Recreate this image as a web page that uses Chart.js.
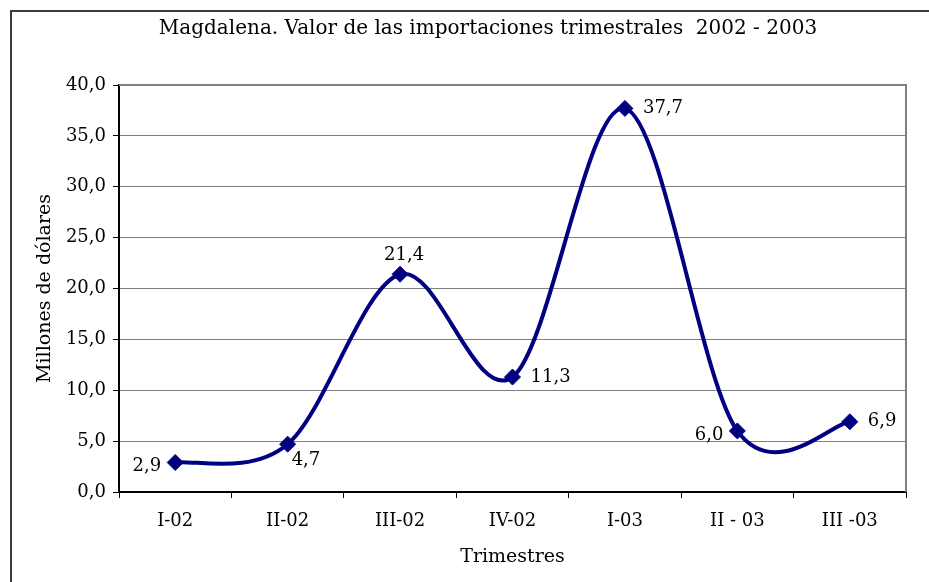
<!DOCTYPE html>
<html>
<head>
<meta charset="utf-8">
<script src="https://cdn.jsdelivr.net/npm/chart.js@4"></script>
<style>
  html, body { margin: 0; padding: 0; background: #fff; }
  #wrap { width: 929px; height: 582px; }
</style>
</head>
<body>
<div id="wrap"><canvas id="chart" width="929" height="582"></canvas></div>
<script>
const title = 'Magdalena. Valor de las importaciones trimestrales  2002 - 2003';
const trimestres = ['I-02', 'II-02', 'III-02', 'IV-02', 'I-03', 'II - 03', 'III -03'];
const valores = [2.9, 4.7, 21.4, 11.3, 37.7, 6.0, 6.9];
// where each value label sits relative to its point
const labelPos = ['left', 'belowRight', 'above', 'right', 'right', 'left', 'right'];

const FONT = '"DejaVu Serif", "Liberation Serif", serif';
const NAVY = '#000080';
const fmt = v => v.toFixed(1).replace('.', ',');

/* ---------- spreadsheet-style smoothing (uniform catmull-rom) ---------- */
const smooth = {
  id: 'smooth',
  beforeDatasetDraw(chart, args) {
    const meta = args.meta;
    meta.dataset.updateControlPoints(chart.chartArea);
    const pts = meta.data;
    const n = pts.length;
    pts.forEach((p, i) => {
      const prev = pts[Math.max(i - 1, 0)];
      const next = pts[Math.min(i + 1, n - 1)];
      const tx = (next.x - prev.x) / 6, ty = (next.y - prev.y) / 6;
      p.cp1x = p.x - tx; p.cp1y = p.y - ty;
      p.cp2x = p.x + tx; p.cp2y = p.y + ty;
    });
  }
};

/* ---------- frame, title, plot border, value labels ---------- */
const decor = {
  id: 'decor',
  beforeDraw(chart) {
    const ctx = chart.ctx;
    ctx.save();
    ctx.fillStyle = '#fff';
    ctx.fillRect(0, 0, chart.width, chart.height);
    ctx.strokeStyle = '#3a3a3a';
    ctx.lineWidth = 2;
    ctx.strokeRect(11, 11, chart.width + 40, chart.height + 40);
    ctx.fillStyle = '#000';
    ctx.font = '20px ' + FONT;
    ctx.textAlign = 'center';
    ctx.textBaseline = 'middle';
    ctx.fillText(title, 488, 29);
    ctx.restore();
  },
  afterDatasetsDraw(chart) {
    const ctx = chart.ctx;
    const a = chart.chartArea;
    ctx.save();
    ctx.strokeStyle = '#808080';
    ctx.lineWidth = 2;
    ctx.beginPath();
    ctx.moveTo(a.left, a.top);
    ctx.lineTo(a.right, a.top);
    ctx.lineTo(a.right, a.bottom);
    ctx.stroke();

    ctx.fillStyle = '#000';
    ctx.font = '18px ' + FONT;
    chart.getDatasetMeta(0).data.forEach((pt, i) => {
      const txt = fmt(valores[i]);
      let x = pt.x, y = pt.y;
      switch (labelPos[i]) {
        case 'left': ctx.textAlign = 'right'; ctx.textBaseline = 'middle'; x -= 14; y += 4; break;
        case 'right': ctx.textAlign = 'left'; ctx.textBaseline = 'middle'; x += 18; break;
        case 'above': ctx.textAlign = 'center'; ctx.textBaseline = 'bottom'; x += 4; y -= 10; break;
        case 'belowRight': ctx.textAlign = 'left'; ctx.textBaseline = 'middle'; x += 4; y += 16; break;
      }
      ctx.fillText(txt, x, y);
    });
    ctx.restore();
  }
};

new Chart(document.getElementById('chart'), {
  type: 'line',
  data: {
    labels: trimestres,
    datasets: [{
      data: valores,
      borderColor: NAVY,
      backgroundColor: NAVY,
      borderWidth: 4,
      tension: 0.4,
      pointStyle: 'rectRot',
      pointRadius: 8,
      pointHoverRadius: 8,
      pointBackgroundColor: NAVY,
      pointBorderColor: NAVY,
      pointBorderWidth: 1
    }]
  },
  options: {
    responsive: false,
    animation: false,
    devicePixelRatio: 1,
    layout: { padding: { top: 85, right: 23, left: 30, bottom: 0 } },
    plugins: {
      legend: { display: false },
      tooltip: { enabled: false }
    },
    scales: {
      x: {
        offset: true,
        grid: { display: true, offset: true, drawOnChartArea: false, drawTicks: true, tickLength: 6, color: '#000' },
        border: { color: '#000', width: 2 },
        ticks: { color: '#000', font: { family: FONT, size: 18 }, padding: 13, maxRotation: 0 },
        title: { display: true, text: 'Trimestres', color: '#000', font: { family: FONT, size: 19 }, padding: { top: 4, bottom: 14 } },
        afterFit(scale) { scale.height = 90; }
      },
      y: {
        min: 0,
        max: 40,
        grid: { color: '#808080', lineWidth: 1, tickLength: 6, tickColor: '#000' },
        border: { color: '#000', width: 2 },
        ticks: { stepSize: 5, color: '#000', font: { family: FONT, size: 18 }, padding: 7, callback: v => fmt(v) },
        title: { display: true, text: 'Millones de dólares', color: '#000', font: { family: FONT, size: 19 }, padding: { bottom: 0 } },
        afterFit(scale) { scale.width = 89; }
      }
    }
  },
  plugins: [smooth, decor]
});
</script>
</body>
</html>
